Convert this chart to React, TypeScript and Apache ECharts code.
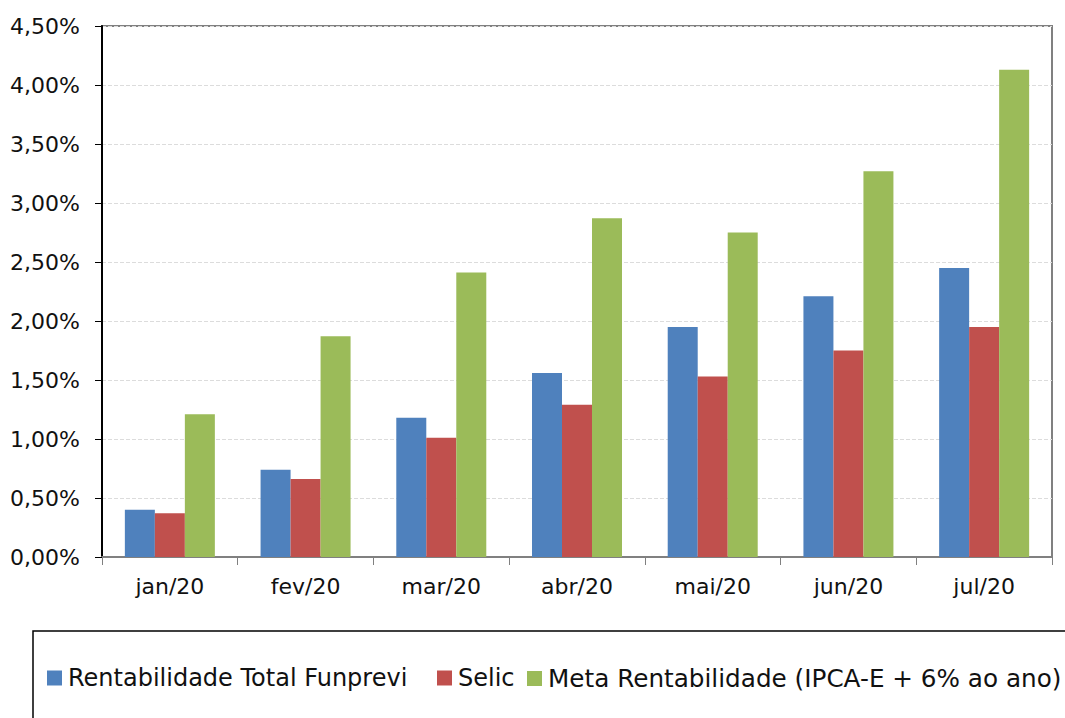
import React, { useEffect, useRef } from "react";
import * as echarts from "echarts";

const categories = ["jan/20", "fev/20", "mar/20", "abr/20", "mai/20", "jun/20", "jul/20"];
const funprevi = [0.40, 0.74, 1.18, 1.56, 1.95, 2.21, 2.45];
const selic = [0.37, 0.66, 1.01, 1.29, 1.53, 1.75, 1.95];
const meta = [1.21, 1.87, 2.41, 2.87, 2.75, 3.27, 4.13];
const seriesNames = [
  "Rentabilidade Total Funprevi",
  "Selic",
  "Meta Rentabilidade (IPCA-E + 6% ao ano)",
];
const colors = ["#4F81BD", "#C0504D", "#9BBB59"];

export default function App() {
  const ref = useRef<HTMLDivElement>(null);
  useEffect(() => {
    if (!ref.current) return;
    const chart = echarts.init(ref.current, undefined, { renderer: "svg" });
    const axisFont = "'DejaVu Sans', sans-serif";
    const legendLefts = [47, 437, 527];
    const legendSizes = [24, 24, 24.7];
    chart.setOption({
      animation: false,
      backgroundColor: "#ffffff",
      color: colors,
      grid: {
        left: 102,
        top: 26,
        right: 13,
        bottom: 161,
        show: true,
        borderColor: "#808080",
        borderWidth: 2,
        backgroundColor: "transparent",
      },
      legend: seriesNames.map((name, i) => ({
        left: legendLefts[i],
        top: 666,
        padding: 0,
        itemWidth: 15,
        itemHeight: 15,
        icon: "rect",
        textStyle: {
          fontFamily: axisFont,
          fontSize: legendSizes[i],
          color: "#111111",
          padding: [0, 0, 0, 1],
        },
        data: [name],
      })),
      graphic: [
        {
          type: "rect",
          shape: { x: 33, y: 631, width: 1100, height: 200 },
          style: { fill: "none", stroke: "#000000", lineWidth: 1.5 },
          silent: true,
        },
      ],
      xAxis: {
        type: "category",
        data: categories,
        axisLine: { show: true, lineStyle: { color: "#808080", width: 2 } },
        axisTick: { show: true, length: 8, lineStyle: { color: "#808080", width: 1 } },
        axisLabel: {
          fontFamily: axisFont,
          fontSize: 22,
          color: "#111111",
          margin: 18,
        },
      },
      yAxis: {
        type: "value",
        min: 0,
        max: 4.5,
        interval: 0.5,
        axisLine: { show: true, lineStyle: { color: "#000000", width: 2 } },
        axisTick: { show: true, length: 7, lineStyle: { color: "#000000", width: 1 } },
        axisLabel: {
          fontFamily: axisFont,
          fontSize: 22,
          color: "#111111",
          margin: 22,
          formatter: (v: number) => v.toFixed(2).replace(".", ",") + "%",
        },
        splitLine: {
          show: true,
          lineStyle: { color: "#dcdcdc", type: "dashed", width: 1 },
        },
      },
      series: [
        { name: seriesNames[0], type: "bar", data: funprevi, barWidth: 30, barGap: "0%" },
        { name: seriesNames[1], type: "bar", data: selic, barWidth: 30, barGap: "0%" },
        { name: seriesNames[2], type: "bar", data: meta, barWidth: 30, barGap: "0%" },
      ],
    });
    return () => chart.dispose();
  }, []);
  return <div ref={ref} style={{ width: 1065, height: 718, position: "absolute", left: 0, top: 0 }} />;
}
